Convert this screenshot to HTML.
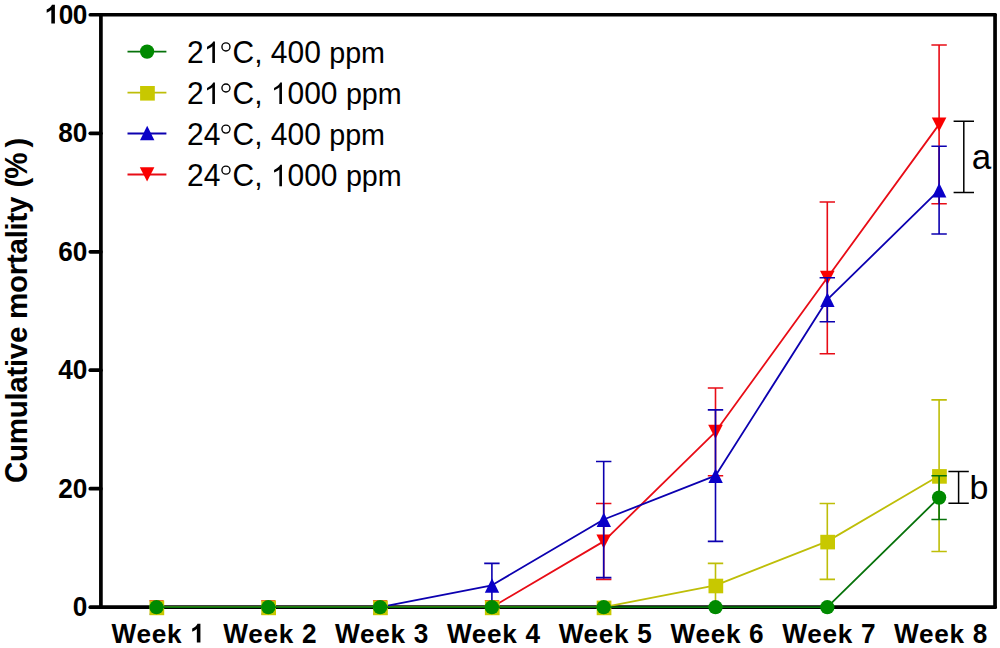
<!DOCTYPE html>
<html><head><meta charset="utf-8"><title>Cumulative mortality</title>
<style>
html,body{margin:0;padding:0;background:#fff;}
body{width:1000px;height:648px;overflow:hidden;}
svg{display:block;}
text{font-family:"Liberation Sans",sans-serif;fill:#000;}
.b{font-weight:bold;}
</style></head><body>
<svg width="1000" height="648" viewBox="0 0 1000 648">
<rect x="0" y="0" width="1000" height="648" fill="#ffffff"/>

<g stroke="#000" stroke-width="3.7" fill="none" stroke-linecap="round">
<line x1="90.3" y1="14.75" x2="995.05" y2="14.75"/>
<line x1="90.3" y1="607.2" x2="995.05" y2="607.2"/>
<line x1="100.9" y1="14.75" x2="100.9" y2="607.2"/>
<line x1="995.05" y1="14.75" x2="995.05" y2="607.2"/>
<line x1="90.3" y1="488.7" x2="100.9" y2="488.7"/>
<line x1="90.3" y1="370.2" x2="100.9" y2="370.2"/>
<line x1="90.3" y1="251.8" x2="100.9" y2="251.8"/>
<line x1="90.3" y1="133.3" x2="100.9" y2="133.3"/>
</g>
<g class="b" font-size="26.2" id="yt0">
<text transform="translate(72.72,616.00) scale(1.0000,1.0405)">0</text>
</g>
<g class="b" font-size="26.2" id="yt20">
<text transform="translate(58.16,497.52) scale(1.0000,1.0405)">2</text>
<text transform="translate(72.72,497.52) scale(1.0000,1.0405)">0</text>
</g>
<g class="b" font-size="26.2" id="yt40">
<text transform="translate(58.16,379.04) scale(1.0000,1.0405)">4</text>
<text transform="translate(72.72,379.04) scale(1.0000,1.0405)">0</text>
</g>
<g class="b" font-size="26.2" id="yt60">
<text transform="translate(58.16,260.56) scale(1.0000,1.0405)">6</text>
<text transform="translate(72.72,260.56) scale(1.0000,1.0405)">0</text>
</g>
<g class="b" font-size="26.2" id="yt80">
<text transform="translate(58.16,142.08) scale(1.0000,1.0405)">8</text>
<text transform="translate(72.72,142.08) scale(1.0000,1.0405)">0</text>
</g>
<g class="b" font-size="26.2" id="yt100">
<path transform="translate(44.60,23.60) scale(0.01279,-0.01279)" d="M806 0H525V1059Q371 915 162 846V1101Q272 1137 401 1237.5T578 1472H806Z"/>
<text transform="translate(58.66,23.60) scale(1.0000,1.0405)">0</text>
<text transform="translate(72.72,23.60) scale(1.0000,1.0405)">0</text>
</g>
<g class="b" font-size="26.2" id="xl1">
<text transform="translate(111.50,642.60) scale(1.0000,1.0405)">W</text>
<text transform="translate(136.42,642.60) scale(1.0000,0.9850)">e</text>
<text transform="translate(151.67,642.60) scale(1.0000,0.9850)">e</text>
<text transform="translate(166.92,642.60) scale(1.0000,0.9850)">k</text>
<path transform="translate(190.12,642.60) scale(0.01279,-0.01279)" d="M806 0H525V1059Q371 915 162 846V1101Q272 1137 401 1237.5T578 1472H806Z"/>
</g>
<g class="b" font-size="26.2" id="xl2">
<text transform="translate(223.30,642.60) scale(1.0000,1.0405)">W</text>
<text transform="translate(248.22,642.60) scale(1.0000,0.9850)">e</text>
<text transform="translate(263.47,642.60) scale(1.0000,0.9850)">e</text>
<text transform="translate(278.72,642.60) scale(1.0000,0.9850)">k</text>
<text transform="translate(301.92,642.60) scale(1.0000,1.0405)">2</text>
</g>
<g class="b" font-size="26.2" id="xl3">
<text transform="translate(335.10,642.60) scale(1.0000,1.0405)">W</text>
<text transform="translate(360.02,642.60) scale(1.0000,0.9850)">e</text>
<text transform="translate(375.27,642.60) scale(1.0000,0.9850)">e</text>
<text transform="translate(390.52,642.60) scale(1.0000,0.9850)">k</text>
<text transform="translate(413.72,642.60) scale(1.0000,1.0405)">3</text>
</g>
<g class="b" font-size="26.2" id="xl4">
<text transform="translate(446.90,642.60) scale(1.0000,1.0405)">W</text>
<text transform="translate(471.82,642.60) scale(1.0000,0.9850)">e</text>
<text transform="translate(487.07,642.60) scale(1.0000,0.9850)">e</text>
<text transform="translate(502.32,642.60) scale(1.0000,0.9850)">k</text>
<text transform="translate(525.52,642.60) scale(1.0000,1.0405)">4</text>
</g>
<g class="b" font-size="26.2" id="xl5">
<text transform="translate(558.70,642.60) scale(1.0000,1.0405)">W</text>
<text transform="translate(583.62,642.60) scale(1.0000,0.9850)">e</text>
<text transform="translate(598.87,642.60) scale(1.0000,0.9850)">e</text>
<text transform="translate(614.12,642.60) scale(1.0000,0.9850)">k</text>
<text transform="translate(637.32,642.60) scale(1.0000,1.0405)">5</text>
</g>
<g class="b" font-size="26.2" id="xl6">
<text transform="translate(670.50,642.60) scale(1.0000,1.0405)">W</text>
<text transform="translate(695.42,642.60) scale(1.0000,0.9850)">e</text>
<text transform="translate(710.67,642.60) scale(1.0000,0.9850)">e</text>
<text transform="translate(725.92,642.60) scale(1.0000,0.9850)">k</text>
<text transform="translate(749.12,642.60) scale(1.0000,1.0405)">6</text>
</g>
<g class="b" font-size="26.2" id="xl7">
<text transform="translate(782.30,642.60) scale(1.0000,1.0405)">W</text>
<text transform="translate(807.22,642.60) scale(1.0000,0.9850)">e</text>
<text transform="translate(822.47,642.60) scale(1.0000,0.9850)">e</text>
<text transform="translate(837.72,642.60) scale(1.0000,0.9850)">k</text>
<text transform="translate(860.92,642.60) scale(1.0000,1.0405)">7</text>
</g>
<g class="b" font-size="26.2" id="xl8">
<text transform="translate(894.10,642.60) scale(1.0000,1.0405)">W</text>
<text transform="translate(919.02,642.60) scale(1.0000,0.9850)">e</text>
<text transform="translate(934.27,642.60) scale(1.0000,0.9850)">e</text>
<text transform="translate(949.52,642.60) scale(1.0000,0.9850)">k</text>
<text transform="translate(972.72,642.60) scale(1.0000,1.0405)">8</text>
</g>
<g class="b" transform="translate(26.8,482.9) rotate(-90)" font-size="29.5" id="t1">
<text transform="translate(0.00,0.00) scale(1.0000,1.0405)">C</text>
<text transform="translate(20.99,0.00) scale(1.0000,0.9850)">u</text>
<text transform="translate(38.70,0.00) scale(1.0000,0.9850)">m</text>
<text transform="translate(64.61,0.00) scale(1.0000,0.9850)">u</text>
<text transform="translate(82.32,0.00) scale(1.0000,0.9850)">l</text>
<text transform="translate(90.20,0.00) scale(1.0000,0.9850)">a</text>
<text transform="translate(106.29,0.00) scale(1.0000,0.9850)">t</text>
<text transform="translate(115.80,0.00) scale(1.0000,0.9850)">i</text>
<text transform="translate(123.68,0.00) scale(1.0000,0.9850)">v</text>
<text transform="translate(139.78,0.00) scale(1.0000,0.9850)">e</text>
</g>
<g class="b" transform="translate(26.8,319.0) rotate(-90)" font-size="29.5" id="t2">
<text transform="translate(0.00,0.00) scale(1.0000,0.9850)">m</text>
<text transform="translate(25.96,0.00) scale(1.0000,0.9850)">o</text>
<text transform="translate(43.73,0.00) scale(1.0000,0.9850)">r</text>
<text transform="translate(54.94,0.00) scale(1.0000,0.9850)">t</text>
<text transform="translate(64.50,0.00) scale(1.0000,0.9850)">a</text>
<text transform="translate(80.65,0.00) scale(1.0000,0.9850)">l</text>
<text transform="translate(88.59,0.00) scale(1.0000,0.9850)">i</text>
<text transform="translate(96.52,0.00) scale(1.0000,0.9850)">t</text>
<text transform="translate(106.08,0.00) scale(1.0000,0.9850)">y</text>
</g>
<g class="b" transform="translate(26.8,187.5) rotate(-90)" font-size="29.5" id="t3">
<text transform="translate(0.00,0.00) scale(1.0000,0.9850)">(</text>
<text transform="translate(8.77,0.00) scale(1.0000,1.0405)">%</text>
</g>
<g class="b" transform="translate(26.8,147.6) rotate(-90)" font-size="29.5" id="t4">
<text transform="translate(0.00,0.00) scale(1.0000,0.9850)">)</text>
</g>
<g font-size="30" id="lg0">
<text transform="translate(187.10,63.00) scale(1.0000,1.0405)">2</text>
<path transform="translate(203.77,63.00) scale(0.01465,-0.01465)" d="M763 0H583V1147Q518 1085 412.5 1023T223 930V1104Q374 1175 487 1276T647 1472H763Z"/>
<circle cx="225.95" cy="46.95" r="4.02" fill="none" stroke="#000" stroke-width="1.38"/>
<text transform="translate(232.46,63.00) scale(1.0000,1.0405)">C</text>
<text transform="translate(254.13,63.00) scale(1.0000,1.0000)">,</text>
<text transform="translate(270.79,63.00) scale(1.0000,1.0405)">4</text>
<text transform="translate(287.48,63.00) scale(1.0000,1.0405)">0</text>
<text transform="translate(304.16,63.00) scale(1.0000,1.0405)">0</text>
</g>
<g font-size="30" id="lp0">
<text transform="translate(329.19,63.00) scale(0.9561,0.9850)">p</text>
<text transform="translate(345.13,63.00) scale(0.9561,0.9850)">p</text>
<text transform="translate(361.09,63.00) scale(0.9561,0.9850)">m</text>
</g>
<g font-size="30" id="lg1">
<text transform="translate(187.10,104.07) scale(1.0000,1.0405)">2</text>
<path transform="translate(203.77,104.07) scale(0.01465,-0.01465)" d="M763 0H583V1147Q518 1085 412.5 1023T223 930V1104Q374 1175 487 1276T647 1472H763Z"/>
<circle cx="225.95" cy="88.02" r="4.02" fill="none" stroke="#000" stroke-width="1.38"/>
<text transform="translate(232.46,104.07) scale(1.0000,1.0405)">C</text>
<text transform="translate(254.13,104.07) scale(1.0000,1.0000)">,</text>
<path transform="translate(270.79,104.07) scale(0.01465,-0.01465)" d="M763 0H583V1147Q518 1085 412.5 1023T223 930V1104Q374 1175 487 1276T647 1472H763Z"/>
<text transform="translate(287.48,104.07) scale(1.0000,1.0405)">0</text>
<text transform="translate(304.16,104.07) scale(1.0000,1.0405)">0</text>
<text transform="translate(320.85,104.07) scale(1.0000,1.0405)">0</text>
</g>
<g font-size="30" id="lp1">
<text transform="translate(345.88,104.07) scale(0.9561,0.9850)">p</text>
<text transform="translate(361.82,104.07) scale(0.9561,0.9850)">p</text>
<text transform="translate(377.78,104.07) scale(0.9561,0.9850)">m</text>
</g>
<g font-size="30" id="lg2">
<text transform="translate(187.10,145.14) scale(1.0000,1.0405)">2</text>
<text transform="translate(203.77,145.14) scale(1.0000,1.0405)">4</text>
<circle cx="225.95" cy="129.09" r="4.02" fill="none" stroke="#000" stroke-width="1.38"/>
<text transform="translate(232.46,145.14) scale(1.0000,1.0405)">C</text>
<text transform="translate(254.13,145.14) scale(1.0000,1.0000)">,</text>
<text transform="translate(270.79,145.14) scale(1.0000,1.0405)">4</text>
<text transform="translate(287.48,145.14) scale(1.0000,1.0405)">0</text>
<text transform="translate(304.16,145.14) scale(1.0000,1.0405)">0</text>
</g>
<g font-size="30" id="lp2">
<text transform="translate(329.19,145.14) scale(0.9561,0.9850)">p</text>
<text transform="translate(345.13,145.14) scale(0.9561,0.9850)">p</text>
<text transform="translate(361.09,145.14) scale(0.9561,0.9850)">m</text>
</g>
<g font-size="30" id="lg3">
<text transform="translate(187.10,186.21) scale(1.0000,1.0405)">2</text>
<text transform="translate(203.77,186.21) scale(1.0000,1.0405)">4</text>
<circle cx="225.95" cy="170.16" r="4.02" fill="none" stroke="#000" stroke-width="1.38"/>
<text transform="translate(232.46,186.21) scale(1.0000,1.0405)">C</text>
<text transform="translate(254.13,186.21) scale(1.0000,1.0000)">,</text>
<path transform="translate(270.79,186.21) scale(0.01465,-0.01465)" d="M763 0H583V1147Q518 1085 412.5 1023T223 930V1104Q374 1175 487 1276T647 1472H763Z"/>
<text transform="translate(287.48,186.21) scale(1.0000,1.0405)">0</text>
<text transform="translate(304.16,186.21) scale(1.0000,1.0405)">0</text>
<text transform="translate(320.85,186.21) scale(1.0000,1.0405)">0</text>
</g>
<g font-size="30" id="lp3">
<text transform="translate(345.88,186.21) scale(0.9561,0.9850)">p</text>
<text transform="translate(361.82,186.21) scale(0.9561,0.9850)">p</text>
<text transform="translate(377.78,186.21) scale(0.9561,0.9850)">m</text>
</g>
<g font-size="35" id="ta">
<text transform="translate(971.80,168.70) scale(1.0000,0.9850)">a</text>
</g>
<g font-size="34" id="tb">
<text transform="translate(969.40,499.20) scale(1.0000,0.9850)">b</text>
</g>
<g id="s_red">
<path d="M603.7 503.5V579.4M596.0 503.5H611.4M596.0 579.4H611.4" stroke="#e80c16" stroke-width="1.6" fill="none"/>
<path d="M715.5 388.0V475.7M707.8 388.0H723.2M707.8 475.7H723.2" stroke="#e80c16" stroke-width="1.6" fill="none"/>
<path d="M827.3 202.0V353.7M819.6 202.0H835.0M819.6 353.7H835.0" stroke="#e80c16" stroke-width="1.6" fill="none"/>
<path d="M939.1 45.0V203.8M931.4 45.0H946.8M931.4 203.8H946.8" stroke="#e80c16" stroke-width="1.6" fill="none"/>
<polyline points="156.5,607.2 268.3,607.2 380.1,607.2 491.9,607.2 603.7,541.4 715.5,431.8 827.3,277.8 939.1,124.4" stroke="#e80c16" stroke-width="1.8" fill="none" stroke-linejoin="round"/>
<path d="M156.5 614.4L163.8 600.2L149.2 600.2Z" fill="#fa0000"/>
<path d="M268.3 614.4L275.6 600.2L261.0 600.2Z" fill="#fa0000"/>
<path d="M380.1 614.4L387.4 600.2L372.8 600.2Z" fill="#fa0000"/>
<path d="M491.9 614.4L499.2 600.2L484.6 600.2Z" fill="#fa0000"/>
<path d="M603.7 548.6L611.0 534.4L596.4 534.4Z" fill="#fa0000"/>
<path d="M715.5 439.0L722.8 424.8L708.2 424.8Z" fill="#fa0000"/>
<path d="M827.3 285.0L834.6 270.8L820.0 270.8Z" fill="#fa0000"/>
<path d="M939.1 131.6L946.4 117.4L931.8 117.4Z" fill="#fa0000"/>
</g>
<g id="s_blue">
<path d="M491.9 563.4V607.2M484.2 563.4H499.6M484.2 607.2H499.6" stroke="#0c00b0" stroke-width="1.6" fill="none"/>
<path d="M603.7 461.5V577.6M596.0 461.5H611.4M596.0 577.6H611.4" stroke="#0c00b0" stroke-width="1.6" fill="none"/>
<path d="M715.5 409.9V541.4M707.8 409.9H723.2M707.8 541.4H723.2" stroke="#0c00b0" stroke-width="1.6" fill="none"/>
<path d="M827.3 277.8V321.7M819.6 277.8H835.0M819.6 321.7H835.0" stroke="#0c00b0" stroke-width="1.6" fill="none"/>
<path d="M939.1 146.3V234.0M931.4 146.3H946.8M931.4 234.0H946.8" stroke="#0c00b0" stroke-width="1.6" fill="none"/>
<polyline points="156.5,607.2 268.3,607.2 380.1,607.2 491.9,585.3 603.7,519.5 715.5,475.7 827.3,299.7 939.1,190.2" stroke="#0c00b0" stroke-width="1.8" fill="none" stroke-linejoin="round"/>
<path d="M156.6 600.1L163.8 614.6L149.4 614.6Z" fill="#0a00c8"/>
<path d="M268.4 600.1L275.6 614.6L261.2 614.6Z" fill="#0a00c8"/>
<path d="M380.2 600.1L387.4 614.6L373.0 614.6Z" fill="#0a00c8"/>
<path d="M492.0 578.2L499.2 592.7L484.8 592.7Z" fill="#0a00c8"/>
<path d="M603.8 512.4L611.0 526.9L596.6 526.9Z" fill="#0a00c8"/>
<path d="M715.6 468.6L722.8 483.1L708.4 483.1Z" fill="#0a00c8"/>
<path d="M827.4 292.6L834.6 307.1L820.2 307.1Z" fill="#0a00c8"/>
<path d="M939.2 183.1L946.4 197.6L932.0 197.6Z" fill="#0a00c8"/>
</g>
<g id="s_yellow">
<path d="M715.5 563.4V607.2M707.8 563.4H723.2M707.8 607.2H723.2" stroke="#bebe08" stroke-width="1.6" fill="none"/>
<path d="M827.3 503.5V579.4M819.6 503.5H835.0M819.6 579.4H835.0" stroke="#bebe08" stroke-width="1.6" fill="none"/>
<path d="M939.1 399.9V551.5M931.4 399.9H946.8M931.4 551.5H946.8" stroke="#bebe08" stroke-width="1.6" fill="none"/>
<polyline points="156.5,607.2 268.3,607.2 380.1,607.2 491.9,607.2 603.7,607.2 715.5,585.3 827.3,541.4 939.1,475.7" stroke="#bebe08" stroke-width="1.8" fill="none" stroke-linejoin="round"/>
<rect x="149.5" y="600.6" width="14.7" height="14.6" fill="#c8c800"/>
<rect x="261.3" y="600.6" width="14.7" height="14.6" fill="#c8c800"/>
<rect x="373.1" y="600.6" width="14.7" height="14.6" fill="#c8c800"/>
<rect x="484.9" y="600.6" width="14.7" height="14.6" fill="#c8c800"/>
<rect x="596.7" y="600.6" width="14.7" height="14.6" fill="#c8c800"/>
<rect x="708.5" y="578.7" width="14.7" height="14.6" fill="#c8c800"/>
<rect x="820.3" y="534.8" width="14.7" height="14.6" fill="#c8c800"/>
<rect x="932.1" y="469.1" width="14.7" height="14.6" fill="#c8c800"/>
</g>
<g id="s_green">
<path d="M939.1 475.7V519.5M931.4 475.7H946.8M931.4 519.5H946.8" stroke="#06720a" stroke-width="1.6" fill="none"/>
<polyline points="156.5,607.2 268.3,607.2 380.1,607.2 491.9,607.2 603.7,607.2 715.5,607.2 827.3,607.2 939.1,497.6" stroke="#06720a" stroke-width="1.8" fill="none" stroke-linejoin="round"/>
<circle cx="156.5" cy="607.2" r="7.15" fill="#008a00"/>
<circle cx="268.3" cy="607.2" r="7.15" fill="#008a00"/>
<circle cx="380.1" cy="607.2" r="7.15" fill="#008a00"/>
<circle cx="491.9" cy="607.2" r="7.15" fill="#008a00"/>
<circle cx="603.7" cy="607.2" r="7.15" fill="#008a00"/>
<circle cx="715.5" cy="607.2" r="7.15" fill="#008a00"/>
<circle cx="827.3" cy="607.2" r="7.15" fill="#008a00"/>
<circle cx="939.1" cy="497.6" r="7.15" fill="#008a00"/>
</g>
<line x1="127.5" y1="51.6" x2="166.4" y2="51.6" stroke="#06720a" stroke-width="1.8"/>
<circle cx="147.1" cy="51.6" r="7.15" fill="#008a00"/>
<line x1="127.5" y1="92.6" x2="166.4" y2="92.6" stroke="#bebe08" stroke-width="1.8"/>
<rect x="140.1" y="86.0" width="14.7" height="14.6" fill="#c8c800"/>
<line x1="127.5" y1="133.5" x2="166.4" y2="133.5" stroke="#0c00b0" stroke-width="1.8"/>
<path d="M147.2 125.8L154.4 140.3L140.0 140.3Z" fill="#0a00c8"/>
<line x1="127.5" y1="174.5" x2="166.4" y2="174.5" stroke="#e80c16" stroke-width="1.8"/>
<path d="M147.1 181.4L154.4 167.2L139.8 167.2Z" fill="#fa0000"/>
<g stroke="#000" stroke-width="1.5" fill="none">
<path d="M963.8 121.2V192.6M953.6 121.2H974M953.6 192.6H974"/>
<path d="M958.6 471.6V503.3M948.4 471.6H968.8M948.4 503.3H968.8"/>
</g>
</svg></body></html>
